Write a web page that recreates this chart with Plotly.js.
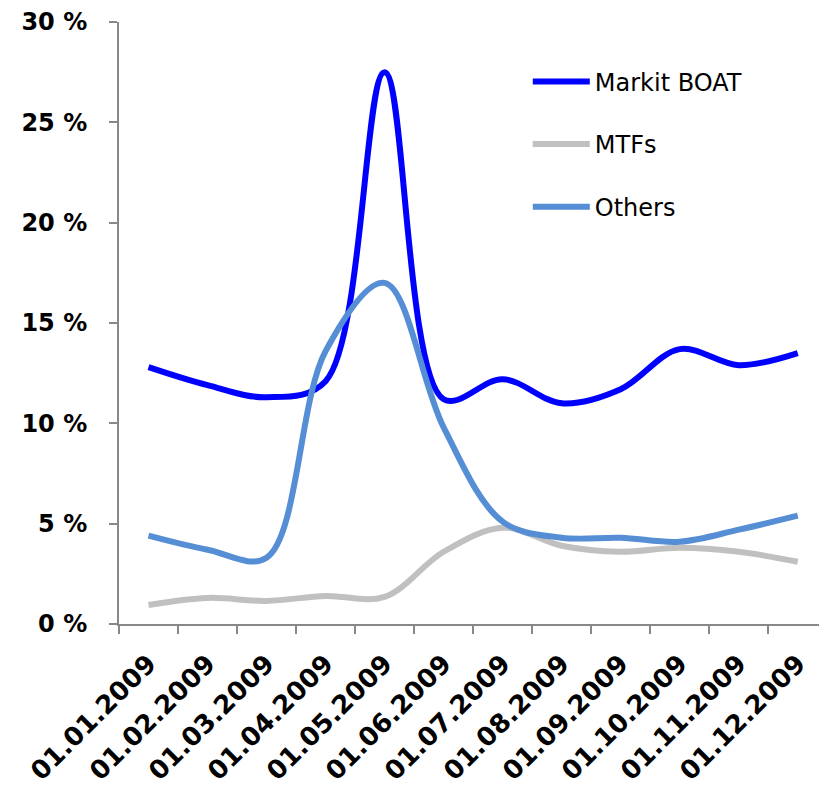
<!DOCTYPE html>
<html>
<head>
<meta charset="utf-8">
<script src="https://cdn.plot.ly/plotly-3.0.1.min.js"></script>
<style>html,body{margin:0;padding:0;background:#fff;}#chart{width:819px;height:788px;}</style>
</head>
<body>
<div id="chart"></div>
<script>
const dates = ["01.01.2009","01.02.2009","01.03.2009","01.04.2009","01.05.2009","01.06.2009","01.07.2009","01.08.2009","01.09.2009","01.10.2009","01.11.2009","01.12.2009"];
const markitBoat = [12.8, 11.9, 11.3, 12.1, 27.5, 11.2, 12.2, 11.0, 11.7, 13.7, 12.9, 13.5];
const mtfs = [0.95, 1.3, 1.15, 1.4, 1.35, 3.6, 4.8, 3.9, 3.6, 3.8, 3.6, 3.1];
const others = [4.4, 3.7, 3.3, 13.6, 17.0, 9.8, 5.1, 4.3, 4.3, 4.1, 4.7, 5.4];

const mk = (name, y, color, g) => ({
  x: dates, y: y, name: name, type: 'scatter', mode: 'lines',
  line: {color: color, width: 6, shape: 'spline', smoothing: 1},
  legendgroup: g
});

const data = [
  mk('Markit BOAT', markitBoat, '#0000ff', 'a'),
  mk('MTFs', mtfs, '#c0c0c0', 'b'),
  mk('Others', others, '#558ed5', 'c')
];

const axisFont = {family: 'DejaVu Sans, Verdana, sans-serif', size: 24, color: '#000', weight: 'bold'};

const layout = {
  width: 819, height: 788,
  margin: {l: 119, r: 0, t: 22, b: 164},
  paper_bgcolor: '#fff', plot_bgcolor: '#fff',
  showlegend: true,
  legend: {
    x: 0.584, y: 0.938, xanchor: 'left', yanchor: 'top',
    font: {family: 'DejaVu Sans, Verdana, sans-serif', size: 24, color: '#000'},
    traceorder: 'grouped', tracegroupgap: 28.5, itemwidth: 57,
    bgcolor: 'rgba(0,0,0,0)'
  },
  xaxis: {
    type: 'category', range: [-0.5, 11.36],
    tickson: 'boundaries', ticks: 'outside', ticklen: 8, tickwidth: 2, tickcolor: '#888',
    showline: true, linecolor: '#888', linewidth: 2,
    showgrid: false, zeroline: false,
    tickangle: -45, tickfont: Object.assign({}, axisFont, {size: 26}),
    ticklabelstandoff: 12, automargin: false
  },
  yaxis: {
    range: [0, 30], tickvals: [0, 5, 10, 15, 20, 25, 30],
    ticktext: ['0 %', '5 %', '10 %', '15 %', '20 %', '25 %', '30 %'],
    ticks: 'outside', ticklen: 8, tickwidth: 2, tickcolor: '#888',
    showline: true, linecolor: '#888', linewidth: 2,
    showgrid: false, zeroline: false,
    tickfont: axisFont, ticklabelstandoff: 17, automargin: false
  }
};

Plotly.newPlot('chart', data, layout, {displayModeBar: false, staticPlot: true});
</script>
</body>
</html>
